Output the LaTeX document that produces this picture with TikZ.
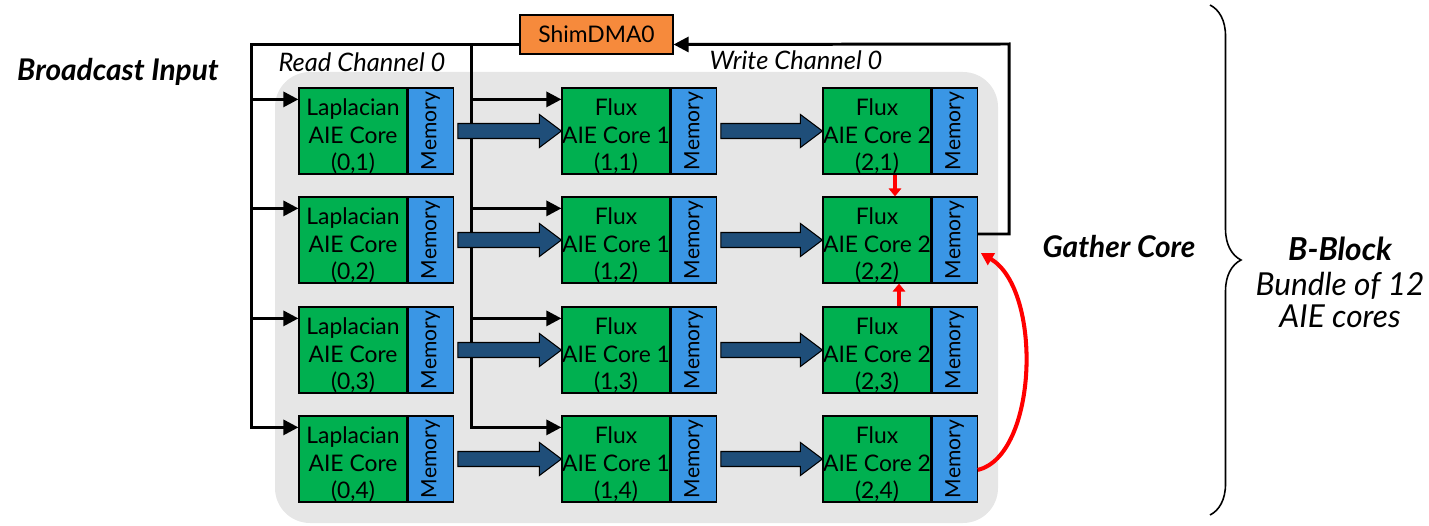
\documentclass[tikz,border=0pt]{standalone}
\usepackage{fontspec}
\setmainfont{Lato}
\usetikzlibrary{arrows.meta,decorations.pathreplacing}
\definecolor{coregreen}{RGB}{0,176,80}
\definecolor{memblue}{RGB}{58,150,229}
\definecolor{shimorange}{RGB}{246,138,60}
\definecolor{blockgray}{RGB}{230,230,230}
\definecolor{arrowblue}{RGB}{31,78,121}
\begin{document}
\begin{tikzpicture}[x=0.02cm,y=-0.02cm]
	\tikzstyle{every node}+=[inner sep=0pt]
	\tikzstyle{core}=[draw=black,line width=0.7pt,fill=coregreen,minimum width=2.16cm,minimum height=1.72cm,align=center,text height=47pt,font=\fontsize{13}{15.6}\selectfont]
	\tikzstyle{mem}=[draw=black,line width=0.7pt,fill=memblue,minimum width=0.9cm,minimum height=1.72cm,anchor=west,font=\fontsize{12}{14}\selectfont]
	\tikzstyle{wire}=[black,line width=1.7pt]
	\tikzstyle{wirearrow}=[-{Triangle[length=8.5pt,width=8.5pt]}]
	\tikzstyle{redsmall}=[red,line width=2pt,-{Triangle[length=4.5pt,width=7pt]}]
	\tikzstyle{redbig}=[red,line width=2.3pt,-{Triangle[length=7pt,width=7.5pt]}]
	\tikzstyle{bigarrow}=[draw=black,line width=0.6pt,fill=arrowblue,
		to path={([shift={(4,-7.5)}]\tikztostart.east) -- ([shift={(-22,-7.5)}]\tikztotarget.west)
		-- ([shift={(-22,-16.5)}]\tikztotarget.west) -- (\tikztotarget.west)
		-- ([shift={(-22,16.5)}]\tikztotarget.west) -- ([shift={(-22,7.5)}]\tikztotarget.west)
		-- ([shift={(4,7.5)}]\tikztostart.east) -- cycle}]
	\tikzstyle{label}=[font=\fontsize{14.5}{17}\selectfont\itshape]
	\tikzstyle{boldlabel}=[font=\fontsize{17}{19}\selectfont\bfseries\itshape]
	\useasboundingbox (0,0) rectangle (1429,526);
	\fill [blockgray,rounded corners=0.7cm] (275,72) rectangle (998,523);
	\node [draw=black,line width=0.7pt,fill=shimorange,minimum width=3.06cm,minimum height=0.78cm,font=\fontsize{13}{15.6}\selectfont] (shim) at (596.5,34.5) {ShimDMA0};
	\node [core] (c01) at (353,131) {Laplacian\\AIE Core\\(0,1)};
	\node [mem] (m01) at (c01.east) {\rotatebox{90}{Memory}};
	\node [core] (c02) at (353,240) {Laplacian\\AIE Core\\(0,2)};
	\node [mem] (m02) at (c02.east) {\rotatebox{90}{Memory}};
	\node [core] (c03) at (353,350) {Laplacian\\AIE Core\\(0,3)};
	\node [mem] (m03) at (c03.east) {\rotatebox{90}{Memory}};
	\node [core] (c04) at (353,459) {Laplacian\\AIE Core\\(0,4)};
	\node [mem] (m04) at (c04.east) {\rotatebox{90}{Memory}};
	\node [core] (c11) at (616,131) {Flux\\AIE Core 1\\(1,1)};
	\node [mem] (m11) at (c11.east) {\rotatebox{90}{Memory}};
	\node [core] (c12) at (616,240) {Flux\\AIE Core 1\\(1,2)};
	\node [mem] (m12) at (c12.east) {\rotatebox{90}{Memory}};
	\node [core] (c13) at (616,350) {Flux\\AIE Core 1\\(1,3)};
	\node [mem] (m13) at (c13.east) {\rotatebox{90}{Memory}};
	\node [core] (c14) at (616,459) {Flux\\AIE Core 1\\(1,4)};
	\node [mem] (m14) at (c14.east) {\rotatebox{90}{Memory}};
	\node [core] (c21) at (877,131) {Flux\\AIE Core 2\\(2,1)};
	\node [mem] (m21) at (c21.east) {\rotatebox{90}{Memory}};
	\node [core] (c22) at (877,240) {Flux\\AIE Core 2\\(2,2)};
	\node [mem] (m22) at (c22.east) {\rotatebox{90}{Memory}};
	\node [core] (c23) at (877,350) {Flux\\AIE Core 2\\(2,3)};
	\node [mem] (m23) at (c23.east) {\rotatebox{90}{Memory}};
	\node [core] (c24) at (877,459) {Flux\\AIE Core 2\\(2,4)};
	\node [mem] (m24) at (c24.east) {\rotatebox{90}{Memory}};
	\coordinate (rd) at ([shift={(0,10)}]shim.west);
	\coordinate (wr) at (1009,44);
	\coordinate (a1) at ([shift={(0,12)}]c01.north west);
	\coordinate (a2) at ([shift={(0,12)}]c02.north west);
	\coordinate (a3) at ([shift={(0,12)}]c03.north west);
	\coordinate (a4) at ([shift={(0,12)}]c04.north west);
	\coordinate (b1) at ([shift={(0,12)}]c11.north west);
	\coordinate (b2) at ([shift={(0,12)}]c12.north west);
	\coordinate (b3) at ([shift={(0,12)}]c13.north west);
	\coordinate (b4) at ([shift={(0,12)}]c14.north west);
	\coordinate (t1) at ([shift={(-90,0)}]b1);
	\draw [wire,wirearrow] (rd) -| ([shift={(-47,0)}]a4) -- (a4);
	\draw [wire,wirearrow] ([shift={(-47,0)}]a1) -- (a1);
	\draw [wire,wirearrow] ([shift={(-47,0)}]a2) -- (a2);
	\draw [wire,wirearrow] ([shift={(-47,0)}]a3) -- (a3);
	\draw [wire,wirearrow] (t1 |- rd) -- ([shift={(-90,0)}]b4) -- (b4);
	\draw [wire,wirearrow] (t1) -- (b1);
	\draw [wire,wirearrow] ([shift={(-90,0)}]b2) -- (b2);
	\draw [wire,wirearrow] ([shift={(-90,0)}]b3) -- (b3);
	\draw [wire,wirearrow] ([shift={(0,-6)}]m22.east) -| (wr) -- (rd -| shim.east);
	\draw [bigarrow] (m01) to (c11);
	\draw [bigarrow] (m02) to (c12);
	\draw [bigarrow] (m03) to (c13);
	\draw [bigarrow] (m04) to (c14);
	\draw [bigarrow] (m11) to (c21);
	\draw [bigarrow] (m12) to (c22);
	\draw [bigarrow] (m13) to (c23);
	\draw [bigarrow] (m14) to (c24);
	\draw [redsmall] ([shift={(18,0)}]c21.south) -- ([shift={(18,0)}]c22.north);
	\draw [redsmall] ([shift={(22,0)}]c23.north) -- ([shift={(22,0)}]c22.south);
	\draw [redbig] ([shift={(0,11)}]m24.east) .. controls +(60,-15) and +(62,37) .. ([shift={(3,13)}]m22.east);
	\draw [line width=0.9pt,decorate,decoration={brace,amplitude=0.62cm}] (1210,5) -- (1210,515);
	\node [boldlabel] (bin) at (118,72) {Broadcast Input};
	\node [label] (rch) at (362,62) {Read Channel 0};
	\node [label] (wch) at (796,60) {Write Channel 0};
	\node [boldlabel] (gc) at (1119,247) {Gather Core};
	\node [align=center,font=\fontsize{18}{18}\selectfont\itshape] (bb) at (1340,282) {{\bfseries B-Block}\\[2pt]Bundle of 12\\AIE cores};
\end{tikzpicture}
\end{document}
